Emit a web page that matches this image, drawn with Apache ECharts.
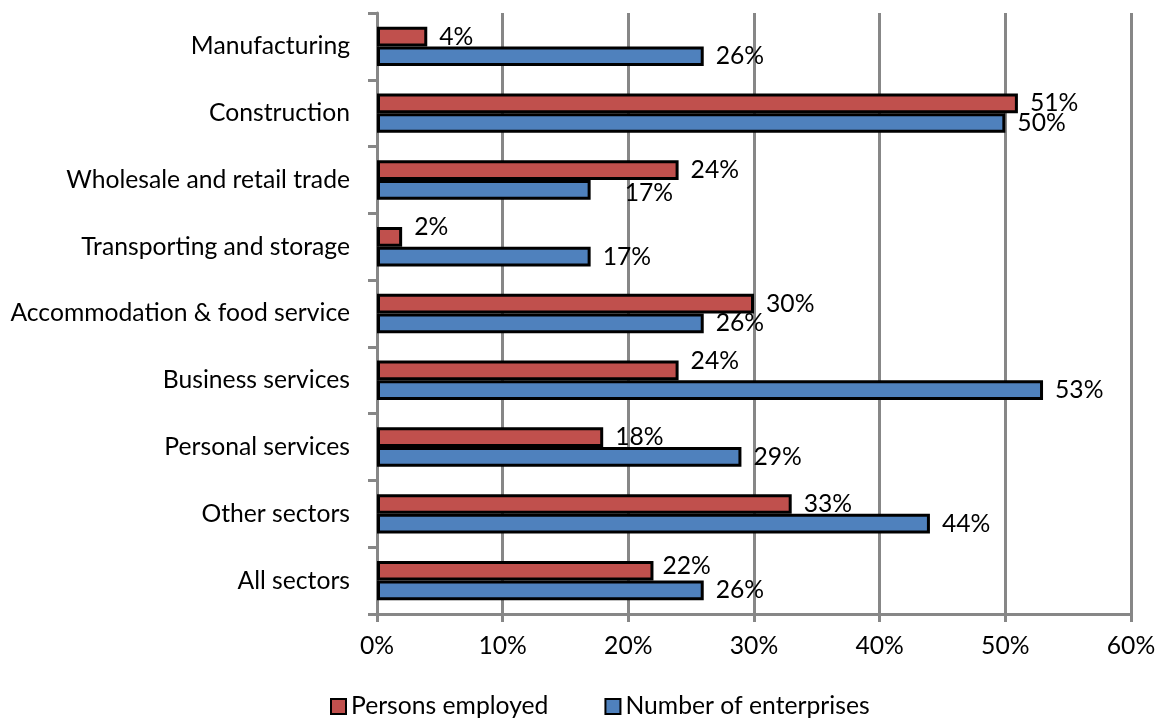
<!DOCTYPE html>
<html>
<head>
<meta charset="utf-8">
<script src="https://cdn.jsdelivr.net/npm/echarts@6/dist/echarts.min.js"></script>
<style>
  html, body { margin: 0; padding: 0; background: #ffffff; }
  #chart { width: 1159px; height: 718px; }
</style>
</head>
<body>
<div id="chart"></div>
<script>
// Sectors, top to bottom
const categories = [
  'Manufacturing',
  'Construction',
  'Wholesale and retail trade',
  'Transporting and storage',
  'Accommodation & food service',
  'Business services',
  'Personal services',
  'Other sectors',
  'All sectors'
];

// Shares in percent
const personsEmployed = [4, 51, 24, 2, 30, 24, 18, 33, 22];
const numberOfEnterprises = [26, 50, 17, 17, 26, 53, 29, 44, 26];

// x-axis ticks
const axisMin = 0;
const axisMax = 60;
const axisStep = 10;

const FONT = 'Lato, "Open Sans", sans-serif';
const FONT_SIZE = 24.7;
const GRID_GREY = '#878787';

// Small label nudges [dx, dy] for labels that sit off the default spot
const labelNudge = {
  employed: { 3: [0, -10], 5: [0, -9], 8: [-3, -5] },
  enterprises: { 2: [22, 3] }
};

function buildData(values, nudges) {
  return values.map((v, i) => {
    const item = { value: v };
    if (nudges[i]) item.label = { offset: nudges[i] };
    return item;
  });
}

function barSeries(name, values, color, nudges) {
  return {
    name: name,
    type: 'bar',
    data: buildData(values, nudges),
    barGap: '0%',
    barCategoryGap: '41%',
    itemStyle: { color: color, borderColor: '#000000', borderWidth: 3 },
    label: {
      show: true,
      position: 'right',
      distance: 12,
      formatter: '{c}%',
      color: '#000000',
      fontFamily: FONT,
      fontSize: FONT_SIZE
    },
    emphasis: { disabled: true }
  };
}

const chart = echarts.init(document.getElementById('chart'), null, { renderer: 'canvas' });

chart.setOption({
  animation: false,
  backgroundColor: '#ffffff',
  textStyle: { fontFamily: FONT },
  grid: {
    left: 377,
    right: 28,
    top: 13,
    bottom: 104,
    containLabel: false,
    outerBoundsMode: 'none'
  },
  legend: {
    left: 325,
    top: 689,
    icon: 'rect',
    itemWidth: 15,
    itemHeight: 15,
    itemGap: 56,
    selectedMode: false,
    textStyle: { fontFamily: FONT, fontSize: FONT_SIZE, color: '#000000' },
    data: ['Persons employed', 'Number of enterprises']
  },
  xAxis: {
    type: 'value',
    min: axisMin,
    max: axisMax,
    interval: axisStep,
    axisLine: { show: true, lineStyle: { color: GRID_GREY, width: 3 } },
    axisTick: { show: true, length: 8, lineStyle: { color: GRID_GREY, width: 3 } },
    splitLine: { show: true, lineStyle: { color: GRID_GREY, width: 3 } },
    axisLabel: {
      formatter: '{value}%',
      color: '#000000',
      fontFamily: FONT,
      fontSize: FONT_SIZE,
      margin: 20
    }
  },
  yAxis: {
    type: 'category',
    inverse: true,
    data: categories,
    axisLine: { show: true, lineStyle: { color: GRID_GREY, width: 3 } },
    axisTick: { show: true, length: 9, lineStyle: { color: GRID_GREY, width: 3 } },
    splitLine: { show: false },
    axisLabel: {
      color: '#000000',
      fontFamily: FONT,
      fontSize: FONT_SIZE,
      margin: 27
    }
  },
  series: [
    barSeries('Persons employed', personsEmployed, '#C0504D', labelNudge.employed),
    barSeries('Number of enterprises', numberOfEnterprises, '#4F81BD', labelNudge.enterprises)
  ]
});
</script>
</body>
</html>
